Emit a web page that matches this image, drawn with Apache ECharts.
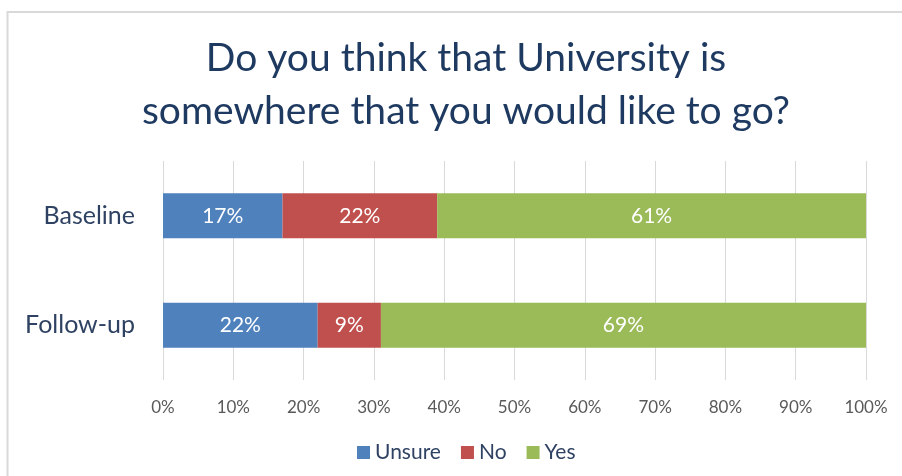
<!DOCTYPE html>
<html>
<head>
<meta charset="utf-8">
<script src="https://cdn.jsdelivr.net/npm/echarts@6/dist/echarts.min.js"></script>
<style>
html,body{margin:0;padding:0;background:#fff;}
#chart{width:902px;height:476px;}
</style>
</head>
<body>
<div id="chart"></div>
<script>
var categories = ['Baseline', 'Follow-up'];
var unsure = [17, 22];
var no = [22, 9];
var yes = [61, 69];
var xTicks = [0, 10, 20, 30, 40, 50, 60, 70, 80, 90, 100];

var FONT = 'Lato';
var chart = echarts.init(document.getElementById('chart'), null, {renderer: 'canvas'});

function mk(name, data, color) {
  return {
    name: name,
    type: 'bar',
    stack: 'total',
    barWidth: 45,
    data: data,
    itemStyle: {color: color},
    label: {
      show: true,
      position: 'inside',
      formatter: '{c}%',
      color: '#ffffff',
      fontFamily: FONT,
      fontSize: 21
    },
    emphasis: {disabled: true}
  };
}

chart.setOption({
  animation: false,
  backgroundColor: '#ffffff',
  title: {
    text: 'Do you think that University is\nsomewhere that you would like to go?',
    left: 461,
    top: 27,
    textAlign: 'center',
    textStyle: {
      fontFamily: FONT,
      fontSize: 39,
      fontWeight: 'normal',
      color: '#1F3A60',
      lineHeight: 53
    }
  },
  graphic: [{
    type: 'rect',
    shape: {x: 7.5, y: 12, width: 1000, height: 1000},
    style: {fill: 'none', stroke: '#d9d9d9', lineWidth: 2},
    silent: true
  }],
  legend: {
    data: ['Unsure', 'No', 'Yes'],
    left: 352,
    top: 437,
    icon: 'rect',
    itemWidth: 13,
    itemHeight: 13,
    itemGap: 20,
    textStyle: {fontFamily: FONT, fontSize: 21, color: '#2F4263'}
  },
  grid: {left: 163, right: 36, top: 161, bottom: 96, containLabel: false},
  xAxis: {
    type: 'value',
    min: xTicks[0],
    max: xTicks[xTicks.length - 1],
    interval: 10,
    axisLine: {show: false},
    axisTick: {show: false},
    splitLine: {show: true, lineStyle: {color: '#d9d9d9', width: 1}},
    axisLabel: {
      formatter: '{value}%',
      color: '#595959',
      fontFamily: FONT,
      fontSize: 17,
      margin: 19
    }
  },
  yAxis: {
    type: 'category',
    data: categories,
    inverse: true,
    axisLine: {show: false},
    axisTick: {show: false},
    axisLabel: {
      color: '#2F4263',
      fontFamily: FONT,
      fontSize: 25,
      margin: 28
    }
  },
  series: [
    mk('Unsure', unsure, '#4F81BD'),
    mk('No', no, '#C0504D'),
    mk('Yes', yes, '#9BBB59')
  ]
});
</script>
</body>
</html>
